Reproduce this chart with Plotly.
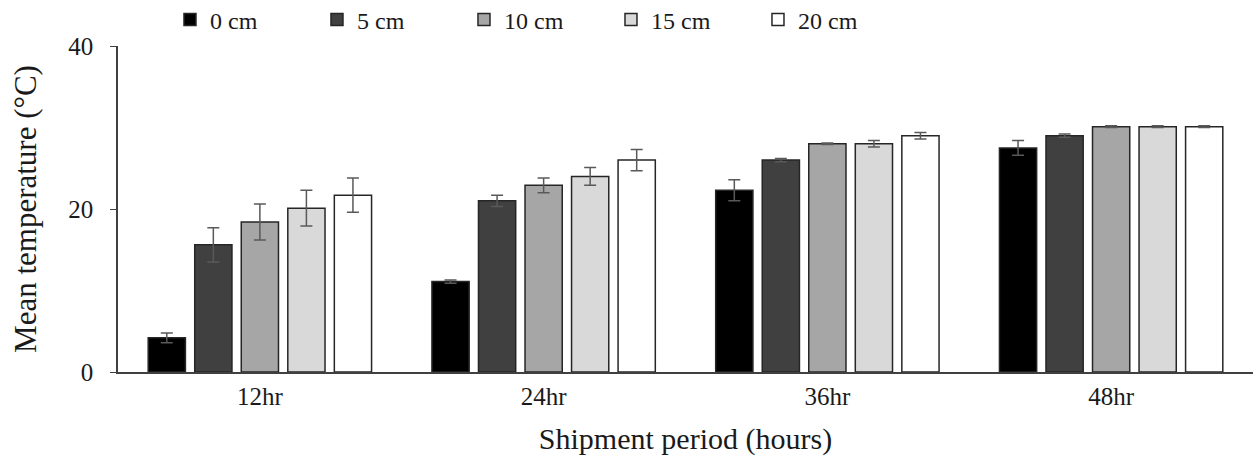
import plotly.graph_objects as go

periods = ["12hr", "24hr", "36hr", "48hr"]
depths = ["0 cm", "5 cm", "10 cm", "15 cm", "20 cm"]
means = {
    "0 cm": [4.2, 11.1, 22.3, 27.5],
    "5 cm": [15.6, 21.0, 26.0, 29.0],
    "10 cm": [18.4, 22.9, 28.0, 30.1],
    "15 cm": [20.1, 24.0, 28.0, 30.1],
    "20 cm": [21.7, 26.0, 29.0, 30.1],
}
errors = {
    "0 cm": [0.6, 0.2, 1.3, 0.9],
    "5 cm": [2.1, 0.7, 0.2, 0.2],
    "10 cm": [2.2, 0.9, 0.1, 0.1],
    "15 cm": [2.2, 1.1, 0.4, 0.1],
    "20 cm": [2.1, 1.3, 0.4, 0.1],
}
colors = ["#000000", "#404040", "#a6a6a6", "#d9d9d9", "#ffffff"]

FONT = "Liberation Serif, Times New Roman, serif"
H = 463

fig = go.Figure()
for d, c in zip(depths, colors):
    fig.add_trace(go.Bar(
        name=d, x=periods, y=means[d],
        marker=dict(color=c, line=dict(color="#262626", width=1.5)),
        error_y=dict(type="data", array=errors[d], visible=True,
                     color="#595959", thickness=1.5, width=6),
    ))

fig.update_layout(
    width=1256, height=H,
    barmode="group", bargap=0.18, bargroupgap=0.2,
    plot_bgcolor="white", paper_bgcolor="white",
    margin=dict(l=118, r=3, t=46, b=91, autoexpand=False),
    font=dict(family=FONT, size=24, color="#1a1a1a"),
    showlegend=True,
    legend=dict(orientation="h", x=0.0458, xanchor="left",
                yref="container", y=1 - 20 / H, yanchor="middle",
                font=dict(family=FONT, size=24, color="#1a1a1a"),
                entrywidth=102, entrywidthmode="pixels",
                bgcolor="rgba(0,0,0,0)", traceorder="normal"),
    xaxis=dict(showline=True, linecolor="#404040", linewidth=1.5, ticks="",
               tickfont=dict(family=FONT, size=25), showgrid=False,
               ticklabelstandoff=1,
               title=dict(text="Shipment period (hours)", font=dict(family=FONT, size=30), standoff=19)),
    yaxis=dict(range=[0, 40], tickvals=[0, 20, 40], showline=True, linecolor="#404040",
               linewidth=1.5, ticks="outside", ticklen=6, tickcolor="#404040",
               tickfont=dict(family=FONT, size=25), showgrid=False, zeroline=False,
               ticklabelstandoff=12,
               title=dict(text="Mean temperature (°C)", font=dict(family=FONT, size=31), standoff=22)),
)

fig.write_html("out.html")
